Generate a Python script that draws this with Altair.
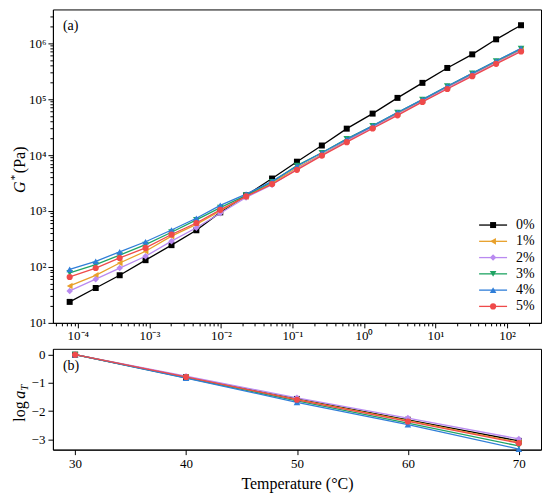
import altair as alt
import pandas as pd

SERIF = "Liberation Serif"

series = ["0%", "1%", "2%", "3%", "4%", "5%"]
colors = ["#000000", "#E8A02A", "#B98AF0", "#1FA463", "#2F7ED8", "#EF4A4A"]
shapes = ["square", "triangle-left", "diamond", "triangle-down", "triangle-up", "circle"]
sizes = [36, 44, 42, 44, 44, 38]

# reduced frequency (x of panel a)
freq = [7.7e-5, 1.78e-4, 3.85e-4, 8.85e-4, 2.04e-3, 4.54e-3, 9.8e-3, 2.25e-2,
        5.19e-2, 0.1156, 0.2576, 0.574, 1.32, 2.94, 6.56, 14.6, 32.6, 70.3, 156.7]

g0 = [23.7, 42, 71, 132, 245, 452, 944, 1900, 3800, 7600, 14800, 29600, 55000,
      105000, 195000, 360000, 630000, 1170000, 2090000]
g1 = [45.7, 70.8, 117.5, 190.5, 354.8, 575.4, 1000, 1820, 3162, 5888, 10233,
      18197, 31623, 54954, 93325, 162181, 275423, 457088, 758578]
g2 = [37.2, 60.3, 95.5, 154.9, 288.4, 501.2, 912, 1738, 2951, 5623, 10000,
      17579, 30903, 53088, 91201, 156675, 266073, 441570, 732825]
g3 = [78.5, 109.6, 162.2, 251.2, 416.9, 691.8, 1148, 1905, 3311, 6457, 10965,
      19498, 33113, 57544, 97724, 169824, 288403, 478630, 794328]
g4 = [90.2, 125.9, 186.2, 281.8, 457, 741, 1259, 1995, 3388, 6310, 10965,
      19055, 33113, 57544, 97724, 169824, 288403, 478630, 803526]
g5 = [66.1, 95.5, 144.5, 218.8, 380.2, 609.5, 1047, 1820, 3020, 5433, 9772,
      16982, 29854, 51286, 89125, 151356, 257040, 426580, 707946]
gstar = [g0, g1, g2, g3, g4, g5]

# shift factors (panel b)
temps = [30, 40, 50, 60, 70]
a0 = [0, -0.80, -1.57, -2.31, -3.06]
a1 = [0, -0.80, -1.59, -2.34, -3.11]
a2 = [0, -0.76, -1.53, -2.25, -2.99]
a3 = [0, -0.82, -1.64, -2.43, -3.24]
a4 = [0, -0.83, -1.69, -2.48, -3.35]
a5 = [0, -0.79, -1.60, -2.37, -3.14]
logat = [a0, a1, a2, a3, a4, a5]

x_ticks = [m * 10.0 ** k for k in range(-5, 3) for m in range(1, 10)
           if 5.0e-5 <= m * 10.0 ** k <= 200]
y_ticks = [m * 10.0 ** k for k in range(1, 7) for m in range(1, 10)
           if m * 10.0 ** k <= 3.0e6]

MAJOR = "abs(log(datum.value)/LN10 - round(log(datum.value)/LN10)) < 0.001"
EXP = "round(log(datum.value)/LN10)"
SUP = ("(" + MAJOR + ") ? '10' + (" + EXP + " < 0 ? '⁻' : '') + substring('⁰¹²³⁴⁵⁶⁷⁸⁹', abs("
       + EXP + "), abs(" + EXP + ") + 1) : ''")

ax_top_x = alt.Axis(values=x_ticks, labelExpr=SUP, title=None, grid=False,
                    tickSize={"condition": {"test": MAJOR, "value": 5}, "value": 3},
                    labelPadding=2, labelFlush=False, labelOverlap=False)
ax_top_y = alt.Axis(values=y_ticks, labelExpr=SUP, title=None, grid=False,
                    tickSize={"condition": {"test": MAJOR, "value": 5}, "value": 3},
                    labelPadding=2, labelFlush=False, labelOverlap=False)
xs_top = alt.Scale(type="log", domain=[4.49e-5, 298], nice=False)
ys_top = alt.Scale(type="log", domain=[10, 4.0e6], nice=False)

W = 489
one = alt.Data(values=[{"k": 0}])

top_layers = []
for i, s in enumerate(series):
    df = pd.DataFrame({"f": freq, "g": gstar[i]})
    base = alt.Chart(df)
    enc = dict(x=alt.X("f:Q", scale=xs_top, axis=ax_top_x),
               y=alt.Y("g:Q", scale=ys_top, axis=ax_top_y))
    top_layers.append(base.mark_line(color=colors[i], strokeWidth=1.3).encode(**enc))
    top_layers.append(base.mark_point(shape=shapes[i], filled=True, color=colors[i],
                                      size=sizes[i], opacity=1).encode(**enc))

# legend
for i, s in enumerate(series):
    yy = 216 + 16.3 * i
    leg = alt.Chart(one)
    top_layers.append(leg.mark_rule(color=colors[i], strokeWidth=1.3).encode(
        x=alt.value(427), x2=alt.value(455), y=alt.value(yy)))
    top_layers.append(leg.mark_point(shape=shapes[i], filled=True, color=colors[i],
                                     size=sizes[i], opacity=1).encode(
        x=alt.value(441), y=alt.value(yy)))
    top_layers.append(leg.mark_text(align="left", baseline="middle", font=SERIF,
                                    fontSize=14, color="black").encode(
        x=alt.value(464), y=alt.value(yy), text=alt.value(s)))

# panel label and y-title
txt = alt.Chart(one)
top_layers.append(txt.mark_text(align="left", baseline="middle", font=SERIF, fontSize=14,
                                color="black").encode(x=alt.value(10), y=alt.value(17),
                                                      text=alt.value("(a)")))
top_layers.append(txt.mark_text(align="left", baseline="middle", font=SERIF, fontSize=16,
                                fontStyle="italic", angle=270, color="black").encode(
    x=alt.value(-33), y=alt.value(184), text=alt.value("G")))
top_layers.append(txt.mark_text(align="left", baseline="middle", font=SERIF, fontSize=11,
                                angle=270, color="black").encode(
    x=alt.value(-38), y=alt.value(171), text=alt.value("*")))
top_layers.append(txt.mark_text(align="left", baseline="middle", font=SERIF, fontSize=16,
                                angle=270, color="black").encode(
    x=alt.value(-33), y=alt.value(164), text=alt.value("(Pa)")))

top = alt.layer(*top_layers).properties(width=W, height=314)

# bottom panel
xs_b = alt.Scale(domain=[28, 72], nice=False)
ys_b = alt.Scale(domain=[-3.37, 0.21], nice=False)
ax_b_x = alt.Axis(values=temps, title="Temperature (°C)", grid=False, tickSize=5,
                  labelPadding=3, titlePadding=5, titleFontSize=16, labelFlush=False)
ax_b_y = alt.Axis(values=[0, -1, -2, -3], title=None, grid=False, tickSize=5,
                  labelPadding=3, labelFlush=False)

bot_layers = []
for i, s in enumerate(series):
    df = pd.DataFrame({"t": temps, "a": logat[i]})
    base = alt.Chart(df)
    enc = dict(x=alt.X("t:Q", scale=xs_b, axis=ax_b_x),
               y=alt.Y("a:Q", scale=ys_b, axis=ax_b_y))
    bot_layers.append(base.mark_line(color=colors[i], strokeWidth=1.3).encode(**enc))
    bot_layers.append(base.mark_point(shape=shapes[i], filled=True, color=colors[i],
                                      size=sizes[i], opacity=1).encode(**enc))

bot_layers.append(txt.mark_text(align="left", baseline="middle", font=SERIF, fontSize=14,
                                color="black").encode(x=alt.value(10), y=alt.value(17),
                                                      text=alt.value("(b)")))
bot_layers.append(txt.mark_text(align="left", baseline="middle", font=SERIF, fontSize=16,
                                angle=270, color="black").encode(
    x=alt.value(-33), y=alt.value(73), text=alt.value("log")))
bot_layers.append(txt.mark_text(align="left", baseline="middle", font=SERIF, fontSize=16,
                                fontStyle="italic", angle=270, color="black").encode(
    x=alt.value(-33), y=alt.value(50), text=alt.value("a")))
bot_layers.append(txt.mark_text(align="left", baseline="middle", font=SERIF, fontSize=11,
                                fontStyle="italic", angle=270, color="black").encode(
    x=alt.value(-28), y=alt.value(42), text=alt.value("T")))

bottom = alt.layer(*bot_layers).properties(width=W, height=101)

chart = alt.vconcat(top, bottom, spacing=4).properties(
    padding={"left": 0, "top": 0, "right": 0, "bottom": 0}
).configure_axis(
    labelFont=SERIF, labelFontSize=13, labelColor="black", tickColor="black",
    domainColor="black", titleFont=SERIF, titleColor="black", titleFontWeight="normal",
    grid=False
).configure_view(stroke="black", strokeWidth=1)

chart.save("out.html", embed_options={"renderer": "svg", "actions": False})
